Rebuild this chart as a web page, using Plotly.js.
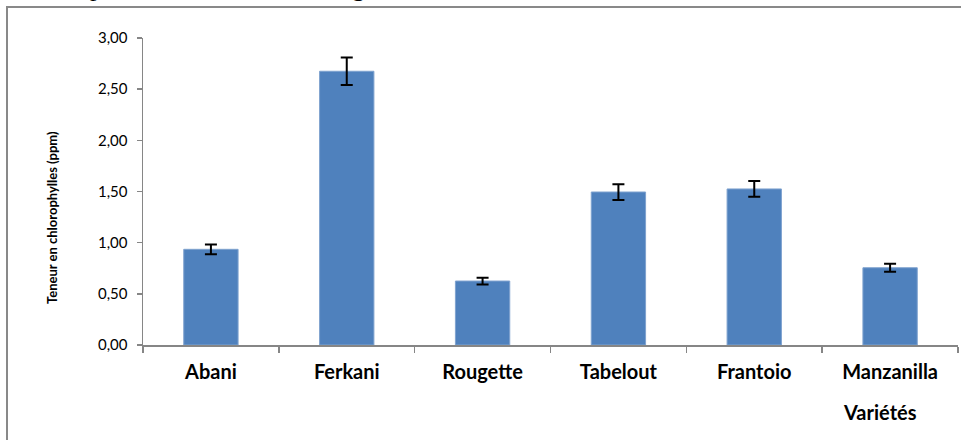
<!DOCTYPE html>
<html>
<head>
<meta charset="utf-8">
<script src="https://cdn.plot.ly/plotly-3.0.1.min.js"></script>
<style>html,body{margin:0;padding:0;background:#fff;}#chart{width:961px;height:440px;}</style>
</head>
<body>
<div id="chart"></div>
<script>
const categories = ["Abani", "Ferkani", "Rougette", "Tabelout", "Frantoio", "Manzanilla"];
const values = [0.935, 2.675, 0.625, 1.495, 1.525, 0.755];
const errors = [0.048, 0.135, 0.033, 0.077, 0.077, 0.040];
const yTickVals = [0, 0.5, 1, 1.5, 2, 2.5, 3];
const yTickText = ["0,00", "0,50", "1,00", "1,50", "2,00", "2,50", "3,00"];
const yTitle = "Teneur en chlorophylles (ppm)";
const xTitle = "Variétés";

const W = 961, H = 440;
const L = 143, R = 3, T = 38, B = 95;
const pw = W - L - R, ph = H - T - B;
const px = v => (v - L) / pw;
const py = v => (H - B - v) / ph;

const trace = {
  type: "bar",
  x: categories,
  y: values,
  marker: {color: "#4F81BD", line: {color: "#7FA2CF", width: 1}},
  width: 0.4,
  error_y: {type: "data", array: errors, visible: true, color: "#000000", thickness: 2, width: 6},
  hoverinfo: "none"
};

const layout = {
  width: W, height: H,
  margin: {l: L, r: R, t: T, b: B, pad: 0},
  paper_bgcolor: "#ffffff",
  plot_bgcolor: "#ffffff",
  showlegend: false,
  font: {family: "Lato, 'Open Sans', sans-serif", color: "#000000"},
  xaxis: {
    type: "category",
    showline: true, linecolor: "#868686", linewidth: 1.5,
    ticks: "outside", tickson: "boundaries", ticklen: 6, tickcolor: "#868686", tickwidth: 1.5,
    showgrid: false, zeroline: false,
    tickfont: {family: "Lato, sans-serif", size: 20, color: "#000", weight: "bold"},
    ticklabelstandoff: 8,
    fixedrange: true
  },
  yaxis: {
    range: [0, 3],
    tickvals: yTickVals, ticktext: yTickText,
    showline: true, linecolor: "#868686", linewidth: 1.5,
    ticks: "outside", ticklen: 5, tickcolor: "#868686", tickwidth: 1.5,
    showgrid: false, zeroline: false,
    tickfont: {family: "Lato, sans-serif", size: 15, color: "#000"},
    ticklabelstandoff: 6,
    fixedrange: true
  },
  shapes: [
    {type: "rect", xref: "paper", yref: "paper", x0: px(7), x1: px(980), y0: py(7), y1: py(460),
     line: {color: "#898989", width: 2}, fillcolor: "rgba(0,0,0,0)", layer: "below"}
  ],
  annotations: [
    {xref: "paper", yref: "paper", x: px(52), y: py(218), text: "<b>" + yTitle + "</b>", textangle: -90,
     showarrow: false, font: {family: "Lato, sans-serif", size: 13, color: "#000"}, xanchor: "center", yanchor: "middle"},
    {xref: "paper", yref: "paper", x: px(880), y: py(412), text: "<b>" + xTitle + "</b>",
     showarrow: false, font: {family: "Lato, sans-serif", size: 20, color: "#000"}, xanchor: "center", yanchor: "middle"},
    {xref: "paper", yref: "paper", x: px(96), y: py(3), text: "p", showarrow: false,
     font: {family: "'Liberation Serif', serif", size: 26, color: "#000"}, xanchor: "center", yanchor: "bottom", borderpad: 0},
    {xref: "paper", yref: "paper", x: px(358), y: py(3), text: "g", showarrow: false,
     font: {family: "'Liberation Serif', serif", size: 26, color: "#000"}, xanchor: "center", yanchor: "bottom", borderpad: 0}
  ]
};

Plotly.newPlot("chart", [trace], layout, {displayModeBar: false, staticPlot: true});
</script>
</body>
</html>
